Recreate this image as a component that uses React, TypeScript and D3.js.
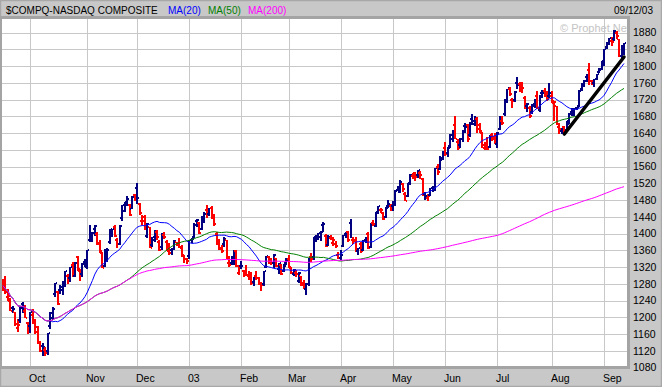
import * as d3 from 'd3';

// one row per trading day: [open, high, low, close]
type Bar = [number, number, number, number];

const sep02: Bar[] = [
  [1290, 1293, 1263, 1276], [1290, 1298, 1257, 1260], [1250, 1268, 1240, 1252], [1240, 1247, 1215, 1216],
  [1222, 1228, 1210, 1221], [1213, 1214, 1180, 1185], [1175, 1196, 1165, 1182], [1194, 1226, 1187, 1222],
  [1233, 1237, 1210, 1222], [1215, 1229, 1198, 1199], [1186, 1190, 1160, 1172],
];
const oct02: Bar[] = [
  [1180, 1214, 1162, 1214], [1205, 1220, 1184, 1187], [1190, 1196, 1161, 1166], [1176, 1180, 1136, 1140],
  [1140, 1144, 1117, 1119], [1132, 1139, 1108, 1129], [1123, 1130, 1108, 1114], [1120, 1164, 1110, 1163],
  [1180, 1212, 1172, 1210], [1198, 1224, 1195, 1221], [1255, 1283, 1250, 1282], [1260, 1262, 1230, 1232],
  [1265, 1278, 1255, 1272], [1265, 1288, 1254, 1288], [1282, 1311, 1272, 1310], [1298, 1303, 1281, 1292],
  [1294, 1321, 1285, 1320], [1325, 1333, 1296, 1299], [1300, 1332, 1297, 1331], [1345, 1347, 1312, 1316],
  [1311, 1316, 1287, 1301], [1303, 1330, 1296, 1327], [1332, 1339, 1320, 1330],
];
const nov02: Bar[] = [
  [1320, 1362, 1315, 1361], [1385, 1420, 1381, 1397], [1385, 1404, 1380, 1401], [1412, 1420, 1395, 1419],
  [1400, 1403, 1372, 1377], [1375, 1384, 1355, 1359], [1355, 1356, 1318, 1319], [1322, 1364, 1320, 1350],
  [1340, 1365, 1333, 1361], [1380, 1412, 1375, 1411], [1405, 1412, 1393, 1412], [1417, 1420, 1391, 1394],
  [1386, 1390, 1367, 1375], [1375, 1420, 1372, 1419], [1437, 1468, 1431, 1468], [1455, 1475, 1453, 1469],
  [1476, 1490, 1465, 1482], [1468, 1470, 1442, 1444], [1460, 1491, 1458, 1488], [1493, 1494, 1477, 1479],
];
const dec02: Bar[] = [
  [1510, 1521, 1470, 1485], [1470, 1473, 1445, 1449], [1430, 1445, 1420, 1430], [1440, 1445, 1410, 1411],
  [1395, 1425, 1390, 1422], [1415, 1417, 1366, 1367], [1372, 1393, 1369, 1391], [1385, 1410, 1380, 1401],
  [1405, 1410, 1386, 1392], [1380, 1385, 1358, 1362], [1368, 1401, 1362, 1400], [1397, 1405, 1388, 1392],
  [1380, 1384, 1358, 1362], [1358, 1378, 1350, 1354], [1360, 1366, 1349, 1363], [1363, 1385, 1360, 1382],
  [1379, 1380, 1370, 1372], [1375, 1390, 1365, 1368], [1367, 1374, 1345, 1348], [1349, 1350, 1330, 1340],
  [1340, 1343, 1328, 1336],
];
const jan03: Bar[] = [
  [1346, 1385, 1340, 1385], [1384, 1390, 1377, 1387], [1392, 1425, 1390, 1421], [1430, 1436, 1417, 1432],
  [1425, 1427, 1400, 1401], [1412, 1442, 1410, 1438], [1430, 1452, 1426, 1448], [1457, 1468, 1437, 1446],
  [1447, 1462, 1442, 1461], [1462, 1465, 1436, 1439], [1440, 1446, 1418, 1424], [1400, 1405, 1372, 1376],
  [1378, 1387, 1362, 1364], [1365, 1373, 1355, 1359], [1375, 1392, 1368, 1388], [1385, 1386, 1340, 1342],
  [1330, 1346, 1320, 1325], [1330, 1347, 1326, 1342], [1335, 1362, 1326, 1358], [1358, 1362, 1320, 1322],
  [1306, 1326, 1301, 1321],
];
const feb03: Bar[] = [
  [1323, 1335, 1315, 1324], [1310, 1314, 1296, 1306], [1310, 1325, 1298, 1302], [1298, 1310, 1290, 1301],
  [1305, 1308, 1278, 1282], [1285, 1297, 1274, 1297], [1300, 1310, 1290, 1295], [1294, 1297, 1278, 1279],
  [1280, 1284, 1264, 1277], [1280, 1311, 1275, 1310], [1320, 1347, 1318, 1347], [1345, 1346, 1328, 1334],
  [1340, 1343, 1325, 1331], [1330, 1352, 1318, 1349], [1342, 1343, 1321, 1322], [1315, 1330, 1303, 1329],
  [1325, 1328, 1302, 1304], [1310, 1327, 1308, 1324], [1330, 1343, 1326, 1338],
];
const mar03: Bar[] = [
  [1340, 1350, 1318, 1320], [1318, 1320, 1303, 1305], [1303, 1315, 1298, 1314], [1305, 1313, 1297, 1303],
  [1288, 1308, 1282, 1306], [1298, 1300, 1276, 1278], [1283, 1290, 1268, 1271], [1268, 1282, 1253, 1279],
  [1280, 1341, 1276, 1341], [1345, 1355, 1332, 1340], [1345, 1393, 1338, 1392], [1392, 1398, 1380, 1397],
  [1395, 1402, 1384, 1401], [1391, 1407, 1383, 1403], [1420, 1427, 1405, 1422], [1395, 1400, 1368, 1370],
  [1372, 1398, 1370, 1391], [1390, 1397, 1385, 1387], [1377, 1393, 1370, 1384], [1375, 1382, 1366, 1370],
  [1349, 1356, 1339, 1341],
];
const apr03: Bar[] = [
  [1341, 1360, 1337, 1348], [1370, 1398, 1368, 1397], [1399, 1405, 1390, 1397], [1405, 1407, 1380, 1384],
  [1425, 1436, 1389, 1390], [1386, 1392, 1376, 1383], [1385, 1392, 1356, 1357], [1358, 1366, 1350, 1366],
  [1375, 1380, 1354, 1359], [1360, 1386, 1358, 1385], [1384, 1392, 1377, 1391], [1400, 1404, 1364, 1365],
  [1368, 1426, 1366, 1426], [1425, 1432, 1418, 1424], [1418, 1452, 1415, 1451], [1453, 1467, 1447, 1466],
  [1456, 1462, 1450, 1457], [1450, 1452, 1433, 1435], [1440, 1463, 1438, 1462], [1466, 1481, 1462, 1471],
  [1467, 1470, 1455, 1464],
];
const may03: Bar[] = [
  [1466, 1478, 1455, 1473], [1468, 1504, 1467, 1503], [1505, 1515, 1501, 1504], [1500, 1528, 1497, 1524],
  [1518, 1522, 1500, 1507], [1495, 1500, 1478, 1479], [1490, 1521, 1488, 1520], [1520, 1543, 1516, 1541],
  [1538, 1545, 1530, 1539], [1545, 1547, 1525, 1535], [1540, 1553, 1532, 1551], [1545, 1550, 1530, 1539],
  [1530, 1532, 1489, 1490], [1495, 1500, 1480, 1491], [1485, 1494, 1478, 1490], [1492, 1510, 1490, 1508],
  [1510, 1515, 1500, 1510], [1508, 1558, 1503, 1557], [1560, 1566, 1540, 1548], [1555, 1585, 1552, 1575],
  [1580, 1598, 1575, 1596],
];
const jun03: Bar[] = [
  [1605, 1620, 1585, 1591], [1592, 1606, 1584, 1604], [1610, 1637, 1605, 1635], [1625, 1647, 1620, 1646],
  [1660, 1682, 1625, 1627], [1620, 1625, 1600, 1604], [1612, 1628, 1605, 1627], [1625, 1648, 1620, 1646],
  [1658, 1665, 1640, 1654], [1660, 1662, 1620, 1626], [1636, 1667, 1630, 1667], [1675, 1686, 1660, 1668],
  [1662, 1681, 1658, 1677], [1675, 1678, 1640, 1649], [1660, 1665, 1640, 1645], [1640, 1642, 1605, 1611],
  [1605, 1618, 1600, 1606], [1610, 1630, 1600, 1603], [1608, 1636, 1605, 1634], [1635, 1640, 1622, 1625],
  [1630, 1640, 1615, 1623],
];
const jul03: Bar[] = [
  [1615, 1642, 1605, 1641], [1650, 1680, 1648, 1679], [1670, 1680, 1660, 1664], [1685, 1721, 1682, 1721],
  [1715, 1746, 1712, 1747], [1745, 1751, 1730, 1734], [1720, 1725, 1700, 1716], [1720, 1740, 1715, 1738],
  [1760, 1774, 1745, 1755], [1758, 1762, 1738, 1753], [1760, 1763, 1736, 1748], [1725, 1730, 1698, 1698],
  [1705, 1712, 1690, 1709], [1700, 1705, 1676, 1681], [1690, 1710, 1685, 1706], [1710, 1722, 1700, 1719],
  [1730, 1740, 1697, 1699], [1695, 1731, 1690, 1731], [1735, 1743, 1725, 1735], [1740, 1747, 1726, 1731],
  [1735, 1740, 1718, 1721], [1730, 1760, 1725, 1735],
];
const aug03: Bar[] = [
  [1730, 1740, 1712, 1716], [1712, 1718, 1670, 1714], [1705, 1706, 1660, 1660], [1655, 1665, 1638, 1651],
  [1645, 1652, 1638, 1653], [1655, 1658, 1640, 1644], [1648, 1668, 1642, 1662], [1668, 1688, 1663, 1687],
  [1690, 1700, 1680, 1687], [1690, 1701, 1682, 1700], [1700, 1703, 1695, 1702], [1705, 1742, 1702, 1740],
  [1745, 1761, 1740, 1761], [1755, 1768, 1750, 1764], [1775, 1781, 1762, 1778], [1790, 1808, 1755, 1765],
  [1765, 1767, 1755, 1764], [1760, 1770, 1750, 1770], [1770, 1782, 1768, 1782], [1787, 1796, 1783, 1792],
  [1793, 1812, 1792, 1810],
];
const sep03: Bar[] = [
  [1812, 1841, 1800, 1841], [1845, 1858, 1840, 1853], [1853, 1868, 1850, 1868], [1860, 1870, 1848, 1858],
  [1865, 1886, 1860, 1884], [1880, 1883, 1866, 1873], [1865, 1866, 1823, 1824], [1825, 1850, 1820, 1846],
  [1838, 1856, 1827, 1855],
];

const monthLabels = ['Oct', 'Nov', 'Dec', '03', 'Feb', 'Mar', 'Apr', 'May', 'Jun', 'Jul', 'Aug', 'Sep'];
const monthBars = [oct02, nov02, dec02, jan03, feb03, mar03, apr03, may03, jun03, jul03, aug03, sep03];
const priceTicks = d3.range(1080, 1881, 40);
const maPeriods = [20, 50, 200];
const maColors = ['#0000ff', '#008000', '#ff00ff'];
// hand drawn support line: [bar index, price]
const trendLine: [number, number][] = [[226, 1638], [250, 1822]];

const font = '"Liberation Sans", Arial, sans-serif';
const W = 662;
const H = 387;
const plot = { left: 2, top: 19, right: 627, bottom: 366 };

export default function App() {
  const bars = [sep02, ...monthBars].flat();
  const n = bars.length;

  const x = d3.scaleLinear().domain([0, n - 1]).range([3, 624]);
  const y = d3.scaleLinear().domain([1080, 1880]).range([367.7, 32.7]);

  // first bar index of each month
  const monthStarts: number[] = [];
  let acc = sep02.length;
  monthBars.forEach(m => { monthStarts.push(acc); acc += m.length; });

  const closes = bars.map(b => b[3]);
  const movingAvg = (p: number) =>
    closes.map((_, i) => d3.mean(closes.slice(Math.max(0, i - p + 1), i + 1)) as number);

  const line = d3.line<number>().x((_, i) => x(i)).y(v => y(v));

  return (
    <>
      <style>{'body{margin:0}'}</style>
      <svg width={W} height={H} style={{ display: 'block' }} fontFamily={font}>
        <defs>
          <clipPath id="plotClip">
            <rect x={plot.left} y={plot.top} width={plot.right - plot.left} height={plot.bottom - plot.top} />
          </clipPath>
        </defs>
        <rect x={0} y={0} width={W} height={H} fill="#c8c8c8" />
        <rect x={0.5} y={0.5} width={W - 1} height={H - 1} fill="none" stroke="#a8a8a8" strokeWidth={1.5} />
        <rect x={0} y={16} width={630} height={353} fill="#a4a4a4" />
        <rect x={plot.left} y={plot.top} width={plot.right - plot.left} height={plot.bottom - plot.top} fill="#fff" />

        {/* header */}
        <text x={6} y={13.5} fontSize={10} fill="#000">$COMPQ-NASDAQ COMPOSITE</text>
        {maPeriods.map((p, k) => (
          <text key={p} x={168 + k * 40} y={13.5} fontSize={10} fill={maColors[k]}>{`MA(${p})`}</text>
        ))}
        <text x={653} y={14} fontSize={10} textAnchor="end" fill="#000">09/12/03</text>

        <g clipPath="url(#plotClip)">
          {priceTicks.map(t => (
            <line key={t} x1={plot.left} x2={plot.right} y1={Math.round(y(t)) + 0.5} y2={Math.round(y(t)) + 0.5}
              stroke="#c8c8c8" />
          ))}
          {monthStarts.map(i => (
            <line key={i} x1={Math.round(x(i)) + 0.5} x2={Math.round(x(i)) + 0.5} y1={plot.top} y2={plot.bottom}
              stroke="#c8c8c8" />
          ))}
          <text x={560} y={31.5} fontSize={11} fill="#c4c4c4">© Prophet.Net</text>

          {bars.map((b, i) => {
            const [o, h, l, c] = b;
            const prev = i > 0 ? bars[i - 1][3] : o;
            const col = c < prev ? '#ff0000' : '#000080';
            const cx = Math.round(x(i));
            const yh = Math.round(y(h));
            const yl = Math.round(y(l));
            return (
              <g key={i} fill={col}>
                <rect x={cx - 1} y={yh} width={2} height={Math.max(1, yl - yh)} />
                <rect x={cx - 2} y={Math.round(y(o)) - 1} width={1} height={2} />
                <rect x={cx + 1} y={Math.round(y(c)) - 1} width={1} height={2} />
              </g>
            );
          })}

          {maPeriods.map((p, k) => (
            <path key={p} d={line(movingAvg(p)) ?? ''} fill="none" stroke={maColors[k]} strokeWidth={1} />
          ))}

          <line x1={x(trendLine[0][0])} y1={y(trendLine[0][1])} x2={x(trendLine[1][0])} y2={y(trendLine[1][1])}
            stroke="#000" strokeWidth={3.5} strokeLinecap="round" />
        </g>

        {/* price axis */}
        {priceTicks.map(t => (
          <text key={t} x={633} y={y(t) + 3.7} fontSize={10.5} fill="#000">{t}</text>
        ))}
        {/* month axis */}
        {monthStarts.map((i, k) => (
          <text key={i} x={Math.round(x(i)) - 1} y={382} fontSize={10.5} fill="#000">{monthLabels[k]}</text>
        ))}
      </svg>
    </>
  );
}
